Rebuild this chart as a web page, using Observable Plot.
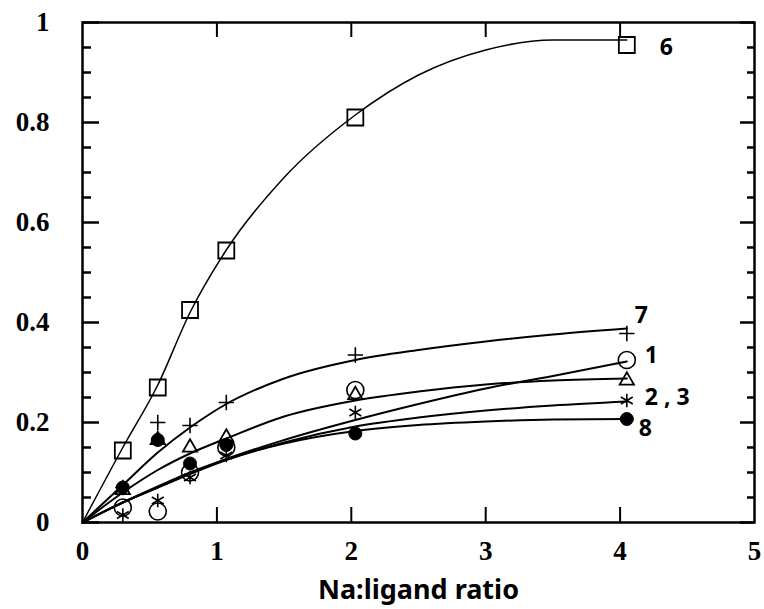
<!DOCTYPE html>
<html><head><meta charset="utf-8">
<script src="https://cdn.jsdelivr.net/npm/d3@7"></script>
<script src="https://cdn.jsdelivr.net/npm/@observablehq/plot@0.6"></script>
<style>body{margin:0;background:#fff} svg{overflow:visible}</style>
</head><body><div id="chart"></div>
<script>
// measured Na:ligand ratios
const ratio = [0.3, 0.56, 0.8, 1.07, 2.03, 4.05];
// measured values per series
const s6 = [0.144, 0.27, 0.425, 0.544, 0.81, 0.955];
const s7 = [0.07, 0.20, 0.194, 0.24, 0.335, 0.378];
const s1 = [0.03, 0.022, 0.10, 0.15, 0.265, 0.325];
const s2 = [0.065, 0.165, 0.15, 0.17, 0.255, 0.284];
const s3 = [0.015, 0.044, 0.09, 0.134, 0.22, 0.244];
const s8 = [0.07, 0.165, 0.118, 0.155, 0.178, 0.207];

// fitted curves
const fitX = [0, 0.3, 0.56, 0.8, 1.07, 1.5, 2.03, 2.5, 3.0, 3.5, 4.05];
const fit6 = [0, 0.15, 0.275, 0.42, 0.545, 0.69, 0.815, 0.895, 0.945, 0.965, 0.965];
const fit7 = [0, 0.075, 0.14, 0.19, 0.237, 0.288, 0.325, 0.345, 0.362, 0.376, 0.388];
const fit2 = [0, 0.06, 0.105, 0.138, 0.168, 0.212, 0.244, 0.262, 0.276, 0.284, 0.288];
const fit1 = [0, 0.04, 0.07, 0.098, 0.127, 0.165, 0.205, 0.237, 0.268, 0.293, 0.322];
const fit3 = [0, 0.04, 0.07, 0.097, 0.125, 0.16, 0.192, 0.21, 0.224, 0.234, 0.242];
const fit8 = [0, 0.04, 0.072, 0.1, 0.126, 0.158, 0.183, 0.195, 0.202, 0.206, 0.207];

const seriesLabels = ["6", "7", "1", "2 , 3", "8"];
const xTicks = [0, 1, 2, 3, 4, 5];
const xInnerTicks = [1, 2, 3, 4];
const yTicks = [0, 0.2, 0.4, 0.6, 0.8, 1];
const yMinor = [0.05, 0.1, 0.15, 0.25, 0.3, 0.35, 0.45, 0.5, 0.55, 0.65, 0.7, 0.75, 0.85, 0.9, 0.95];
const xLabel = "Na:ligand ratio";

const W = 764, H = 609, mL = 82, mR = 10, mT = 22, mB = 87;
const PW = W - mL - mR, PH = H - mT - mB;

const pts = ys => ratio.map((x, i) => ({x, y: ys[i]}));
const fit = ys => fitX.map((x, i) => ({x, y: ys[i]}));
const lastPt = ys => [{x: ratio[ratio.length - 1], y: ys[ys.length - 1]}];

const serif = "'Liberation Serif', 'Times New Roman', serif";
const sans = "'Liberation Sans', Arial, sans-serif";
const lab = (ys, text, dx, dy) => Plot.text(lastPt(ys), {x: "x", y: "y", text: () => text, dx, dy,
  textAnchor: "start", fontWeight: "bold", fontSize: 23, fill: "black", ariaLabel: "series label"});

const chart = Plot.plot({
  width: W, height: H,
  marginLeft: mL, marginRight: mR, marginTop: mT, marginBottom: mB,
  x: {domain: [0, 5]},
  y: {domain: [0, 1]},
  style: {background: "white", color: "black"},
  marks: [
    Plot.line(fit(fit6), {x: "x", y: "y", curve: "monotone-x", stroke: "black", strokeWidth: 1.5}),
    Plot.line(fit(fit7), {x: "x", y: "y", curve: "monotone-x", stroke: "black", strokeWidth: 2}),
    Plot.line(fit(fit2), {x: "x", y: "y", curve: "monotone-x", stroke: "black", strokeWidth: 2}),
    Plot.line(fit(fit1), {x: "x", y: "y", curve: "monotone-x", stroke: "black", strokeWidth: 2}),
    Plot.line(fit(fit3), {x: "x", y: "y", curve: "monotone-x", stroke: "black", strokeWidth: 2}),
    Plot.line(fit(fit8), {x: "x", y: "y", curve: "monotone-x", stroke: "black", strokeWidth: 2}),
    Plot.dot(pts(s6), {x: "x", y: "y", symbol: "square", r: 9, stroke: "black", fill: "none", strokeWidth: 1.8}),
    Plot.dot(pts(s7), {x: "x", y: "y", symbol: "plus", r: 5, stroke: "black", fill: "none", strokeWidth: 1.6}),
    Plot.dot(pts(s1), {x: "x", y: "y", symbol: "circle", r: 8.5, stroke: "black", fill: "none", strokeWidth: 1.6}),
    Plot.dot(pts(s2), {x: "x", y: "y", symbol: "triangle", r: 5.3, stroke: "black", fill: "none", strokeWidth: 1.8}),
    Plot.dot(pts(s3), {x: "x", y: "y", symbol: "asterisk", r: 6.5, stroke: "black", fill: "none", strokeWidth: 1.6}),
    Plot.dot(pts(s8), {x: "x", y: "y", symbol: "circle", r: 6.5, stroke: "black", fill: "black", strokeWidth: 1}),
    lab(s6, seriesLabels[0], 33, 3),
    lab(s7, seriesLabels[1], 8, -18),
    lab(s1, seriesLabels[2], 18, -4),
    lab(s3, seriesLabels[3], 18, -3),
    lab(s8, seriesLabels[4], 12, 10),
    // inside ticks
    Plot.tickY(yTicks, {y: d => d, insetRight: PW - 17, stroke: "black", strokeWidth: 2.5}),
    Plot.tickY(yMinor, {y: d => d, insetRight: PW - 9, stroke: "black", strokeWidth: 2.5}),
    Plot.tickY(yTicks, {y: d => d, insetLeft: PW - 14, stroke: "black", strokeWidth: 2.5}),
    Plot.tickY(yMinor, {y: d => d, insetLeft: PW - 7, stroke: "black", strokeWidth: 2.5}),
    Plot.tickX(xInnerTicks, {x: d => d, insetTop: PH - 15, stroke: "black", strokeWidth: 2}),
    Plot.tickX(xInnerTicks, {x: d => d, insetBottom: PH - 15, stroke: "black", strokeWidth: 2}),
    Plot.frame({stroke: "black", strokeWidth: 2.5}),
    Plot.axisX(xTicks, {tickSize: 0, tickPadding: 18, label: null, tickFormat: d => String(d),
      fontWeight: "bold", fontSize: 27}),
    Plot.axisY(yTicks, {tickSize: 0, tickPadding: 33, label: null, tickFormat: d => String(d),
      fontWeight: "bold", fontSize: 27}),
    Plot.text([xLabel], {text: d => d, frameAnchor: "bottom", dy: 68, lineAnchor: "middle",
      fontWeight: "bold", fontSize: 27, fill: "black", ariaLabel: "axis title"})
  ]
});
// apply font families directly on the text elements
chart.querySelectorAll('g[aria-label="x-axis tick label"] text, g[aria-label="y-axis tick label"] text, g[aria-label="axis title"] text')
  .forEach(t => { t.style.fontFamily = serif; });
chart.querySelectorAll('g[aria-label="series label"] text')
  .forEach(t => { t.style.fontFamily = sans; });
document.getElementById("chart").appendChild(chart);
</script>
</body></html>
